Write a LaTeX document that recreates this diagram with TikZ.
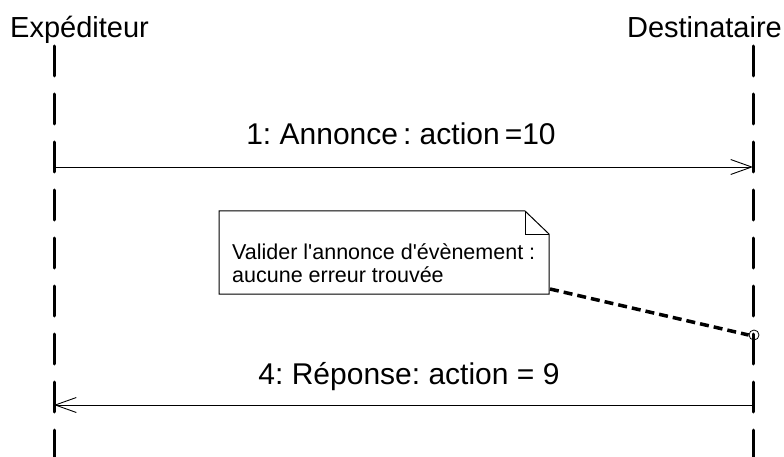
\documentclass[tikz,border=0pt]{standalone}
\usepackage{fontspec}
\setmainfont{Liberation Sans}
\usetikzlibrary{arrows.meta}
\frenchspacing
\begin{document}
\begin{tikzpicture}[x=1pt,y=-1pt,
  lbl/.style={inner sep=0pt,font=\fontsize{29}{34}\selectfont},
  msglbl/.style={inner sep=0pt,font=\fontsize{30}{34}\selectfont},
  notetxt/.style={inner sep=0pt,font=\fontsize{21.5}{23}\selectfont,align=left},
  lifeline/.style={line width=3pt,line cap=round,dash pattern=on 30pt off 18pt},
  msg/.style={line width=0.9pt,-{Straight Barb[length=21pt,width=15pt,line width=0.9pt]}},
  link/.style={line width=3.5pt,dash pattern=on 9pt off 5pt}]
\useasboundingbox (0,0) rectangle (784,457);
% lifelines
\coordinate (s1) at (54,46);
\coordinate (s2) at (54,457);
\coordinate (d1) at (753,46);
\coordinate (d2) at (753,457);
\draw[lifeline] (s1) -- (s2);
\draw[lifeline] (d1) -- (d2);
% headings
\node[lbl,anchor=base west] (exp) at (10,38) {Expéditeur};
\node[lbl,anchor=base east] (dest) at (782,38) {Destinataire};
% message 1
\coordinate (m1s) at (54,167);
\coordinate (m1d) at (753,167);
\draw[msg] (m1s) -- (m1d);
\node[msglbl,anchor=base] (l1) at (401,145) {1: Annonce\,: action\,=10};
% message 4
\coordinate (m4s) at (753,405);
\coordinate (m4d) at (54,405);
\draw[msg] (m4s) -- (m4d);
\node[msglbl,anchor=base] (l4) at (409,384) {4: Réponse: action = 9};
% note
\draw[line width=1pt,fill=white] (219,211) -- (525,211) -- (549,234) -- (549,294) -- (219,294) -- cycle;
\draw[line width=1pt] (525,211) -- (525,234) -- (549,234);
\node[notetxt,anchor=base west] (n1) at (232,259) {Valider l\textquotesingle annonce d\textquotesingle évènement :};
\node[notetxt,anchor=base west] (n2) at (232,282) {aucune erreur trouvée};
\coordinate (nc) at (550,289);
\node[circle,draw,line width=0.8pt,minimum size=10pt,inner sep=0pt] (pt) at (754,335) {};
\draw[link] (nc) -- (pt.west);
\end{tikzpicture}
\end{document}
